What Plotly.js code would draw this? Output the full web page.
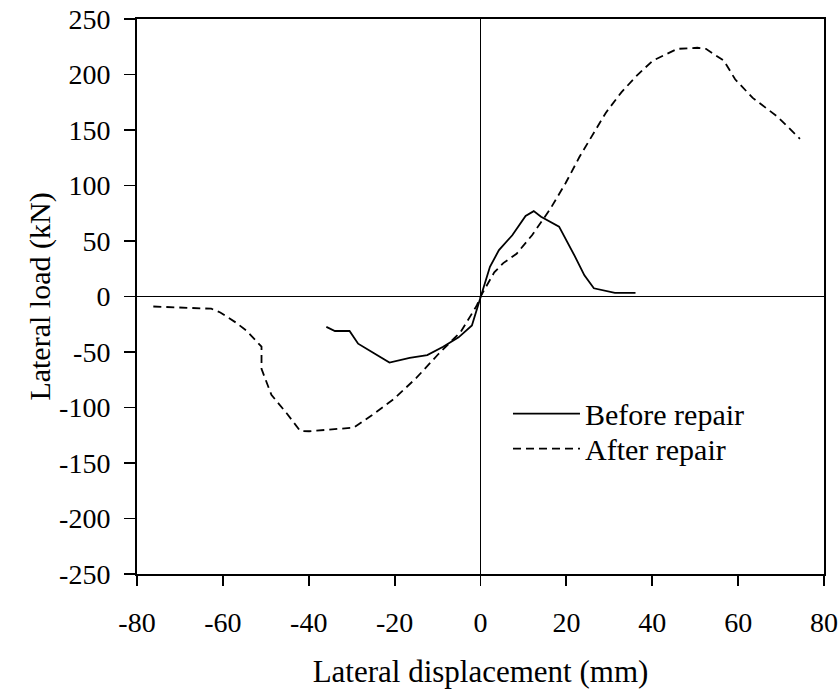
<!DOCTYPE html>
<html>
<head>
<meta charset="utf-8">
<script src="https://cdn.plot.ly/plotly-3.0.1.min.js"></script>
<style>html,body{margin:0;padding:0;background:#fff;}#chart{width:840px;height:689px;}</style>
</head>
<body>
<div id="chart"></div>
<script>
// Before repair (solid)
const beforeDisp = [-35.9, -33.9, -30.5, -28.5, -24.8, -22.7, -21.2, -16.5, -12.4, -8.7, -5.1, -2.0, 0, 2.2, 4.3, 7.4, 10.5, 12.4, 14.1, 18.3, 21.9, 24.2, 26.4, 31.3, 36.1];
const beforeLoad = [-27.4, -31.1, -31.1, -42.5, -51.2, -56.2, -59.5, -55.2, -52.8, -45.2, -36.8, -26.1, 0, 26.8, 41.8, 55.2, 72.6, 76.9, 71.9, 62.9, 36.8, 19.1, 7.4, 3.3, 3.3];
// After repair (dashed)
const afterDisp = [-76.2, -62.7, -60.6, -57.0, -54.4, -51.0, -51.0, -48.7, -45.1, -42.0, -39.9, -29.5, -25.3, -20.1, -15.0, -9.8, -4.6, -0.9, 0, 3.2, 5.3, 8.4, 12.0, 16.2, 19.8, 23.0, 26.6, 29.2, 32.8, 36.4, 40.1, 45.8, 50.5, 52.5, 56.7, 59.3, 63.4, 69.1, 74.4];
const afterLoad = [-9.0, -11.0, -14.4, -23.4, -31.1, -45.2, -65.2, -88.6, -105.4, -121.1, -121.4, -118.1, -107.0, -92.0, -73.6, -51.8, -31.8, -8.4, 0, 21.7, 30.1, 38.5, 55.2, 78.6, 102.0, 125.4, 148.8, 165.6, 183.9, 199.0, 212.4, 223.1, 224.1, 223.1, 212.4, 195.7, 178.9, 162.2, 142.1];

const xTicks = [-80, -60, -40, -20, 0, 20, 40, 60, 80];
const yTicks = [-250, -200, -150, -100, -50, 0, 50, 100, 150, 200, 250];

const fam = '"Liberation Serif", "Times New Roman", serif';
const f = (s) => ({family: fam, size: s, color: '#000'});

const traces = [
  {x: beforeDisp, y: beforeLoad, type: 'scatter', mode: 'lines', name: 'Before repair',
   legend: 'legend', line: {color: '#000', width: 1.8}},
  {x: afterDisp, y: afterLoad, type: 'scatter', mode: 'lines', name: 'After repair',
   legend: 'legend2', line: {color: '#000', width: 1.8, dash: '8px,5px'}}
];

const legendBase = {x: 0.54, xanchor: 'left', yanchor: 'middle', bgcolor: 'rgba(0,0,0,0)',
                    font: f(30), itemwidth: 67};

const layout = {
  width: 840, height: 689,
  margin: {l: 137, r: 16, t: 19, b: 115},
  paper_bgcolor: '#fff', plot_bgcolor: '#fff',
  font: f(28),
  showlegend: true,
  legend: Object.assign({y: 0.289}, legendBase),
  legend2: Object.assign({y: 0.226}, legendBase),
  xaxis: {
    range: [-80, 80], tickvals: xTicks, ticktext: xTicks.map(String),
    ticks: 'outside', ticklen: 10, tickwidth: 1.8, tickcolor: '#000',
    ticklabelstandoff: 12,
    showline: true, linecolor: '#000', linewidth: 2, mirror: true,
    showgrid: false, zeroline: true, zerolinecolor: '#000', zerolinewidth: 1.8,
    tickfont: f(28),
    title: {text: 'Lateral displacement (mm)', font: f(31), standoff: 26},
    automargin: false,
    fixedrange: true
  },
  yaxis: {
    range: [-250, 250], tickvals: yTicks, ticktext: yTicks.map(String),
    ticks: 'outside', ticklen: 11, tickwidth: 1.8, tickcolor: '#000',
    ticklabelstandoff: 8,
    showline: true, linecolor: '#000', linewidth: 2, mirror: true,
    showgrid: false, zeroline: true, zerolinecolor: '#000', zerolinewidth: 1.8,
    tickfont: f(28),
    title: {text: 'Lateral load (kN)', font: f(30), standoff: 0},
    automargin: false,
    fixedrange: true
  }
};

Plotly.newPlot('chart', traces, layout, {displayModeBar: false, staticPlot: true});
</script>
</body>
</html>
